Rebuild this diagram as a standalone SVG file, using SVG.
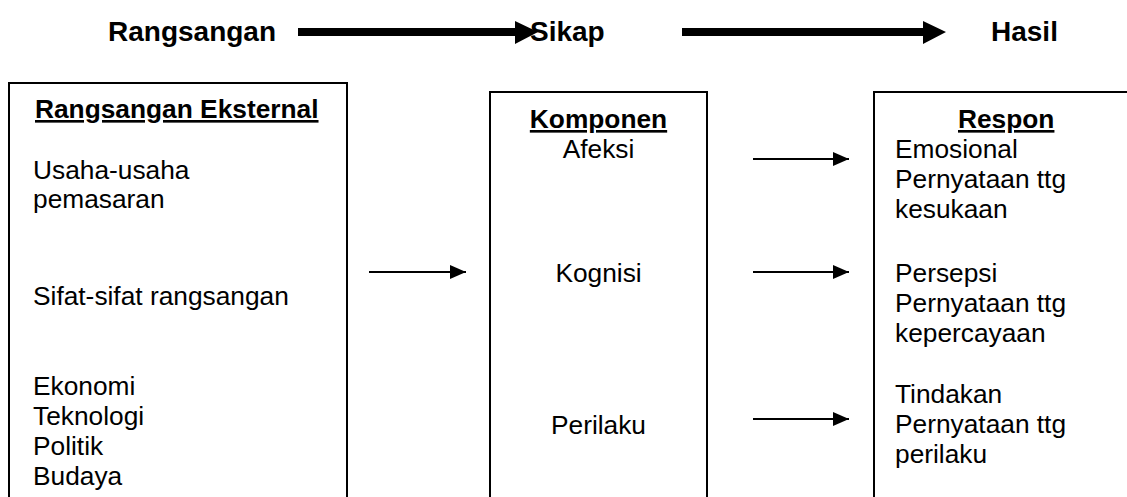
<svg xmlns="http://www.w3.org/2000/svg" width="1127" height="497" viewBox="0 0 1127 497">
  <defs>
    <marker id="head-small" markerUnits="userSpaceOnUse" markerWidth="16" markerHeight="14" refX="16" refY="7" orient="auto">
      <path d="M0,0 L16,7 L0,14 Z" fill="#000"/>
    </marker>
  </defs>
  <style>
    .title { font-family: "Liberation Sans", Arial, sans-serif; font-weight: bold; font-size: 28px; fill: #000; }
    .head { font-family: "Liberation Sans", Arial, sans-serif; font-weight: bold; font-size: 26.3px; fill: #000; text-decoration: underline; }
    .txt { font-family: "Liberation Sans", Arial, sans-serif; font-size: 26.3px; fill: #000; }
    .box { fill: #fff; stroke: #000; stroke-width: 2; }
    .thin { stroke: #000; stroke-width: 2; fill: none; marker-end: url(#head-small); }
    .bar { fill: #000; }
  </style>
  <rect width="1127" height="497" fill="#fff"/>

  <!-- top heading row -->
  <g id="heading">
    <text class="title" x="108" y="41">Rangsangan</text>
    <text class="title" x="530" y="41">Sikap</text>
    <text class="title" x="991" y="41">Hasil</text>
  </g>

  <!-- external stimulus box -->
  <g id="node-rangsangan">
    <rect class="box" x="9" y="83" width="338" height="430"/>
    <text class="head" x="35" y="118">Rangsangan Eksternal</text>
    <text class="txt" x="33" y="179">Usaha-usaha</text>
    <text class="txt" x="33" y="208">pemasaran</text>
    <text class="txt" x="33" y="305">Sifat-sifat rangsangan</text>
    <text class="txt" x="33" y="395">Ekonomi</text>
    <text class="txt" x="33" y="425">Teknologi</text>
    <text class="txt" x="33" y="455">Politik</text>
    <text class="txt" x="33" y="485">Budaya</text>
  </g>

  <!-- attitude components box -->
  <g id="node-komponen">
    <rect class="box" x="490" y="92" width="217" height="430"/>
    <text class="head" x="598.5" y="128" text-anchor="middle">Komponen</text>
    <text class="txt" x="598.5" y="158" text-anchor="middle">Afeksi</text>
    <text class="txt" x="598.5" y="282" text-anchor="middle">Kognisi</text>
    <text class="txt" x="598.5" y="434" text-anchor="middle">Perilaku</text>
  </g>

  <!-- response box -->
  <g id="node-respon">
    <rect class="box" x="874" y="92" width="270" height="430"/>
    <text class="head" x="958" y="128">Respon</text>
    <text class="txt" x="895" y="158">Emosional</text>
    <text class="txt" x="895" y="188">Pernyataan ttg</text>
    <text class="txt" x="895" y="218">kesukaan</text>
    <text class="txt" x="895" y="282">Persepsi</text>
    <text class="txt" x="895" y="312">Pernyataan ttg</text>
    <text class="txt" x="895" y="342">kepercayaan</text>
    <text class="txt" x="895" y="403">Tindakan</text>
    <text class="txt" x="895" y="433">Pernyataan ttg</text>
    <text class="txt" x="895" y="463">perilaku</text>
  </g>

  <!-- connectors -->
  <g id="connectors">
    <!-- thick heading arrows -->
    <path class="bar" d="M298,28 L515,28 L515,21 L538,32 L515,44 L515,36 L298,36 Z"/>
    <path class="bar" d="M682,28 L923,28 L923,21 L946,32 L923,44 L923,36 L682,36 Z"/>
    <!-- thin flow arrows -->
    <line class="thin" x1="369" y1="272" x2="466" y2="272"/>
    <line class="thin" x1="753" y1="159" x2="849" y2="159"/>
    <line class="thin" x1="753" y1="272" x2="849" y2="272"/>
    <line class="thin" x1="753" y1="419" x2="849" y2="419"/>
  </g>
</svg>
